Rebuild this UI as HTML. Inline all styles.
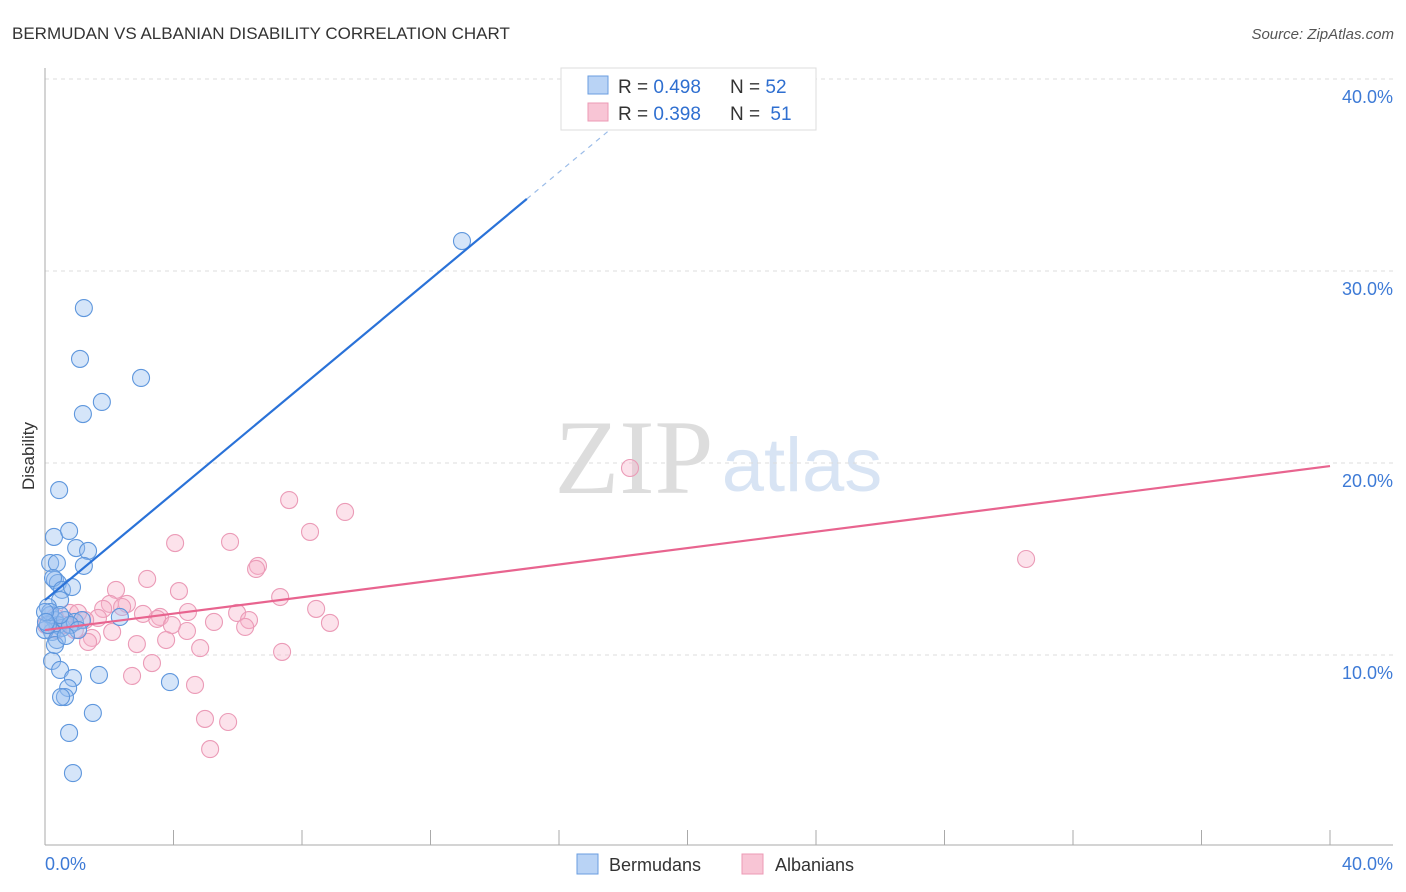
<!DOCTYPE html>
<html><head><meta charset="utf-8"><style>
body{margin:0;background:#fff;font-family:"Liberation Sans",sans-serif;}
svg{display:block}
</style></head><body>
<svg id="chart" width="1406" height="892">
<text x="12" y="39" font-size="17" fill="#333">BERMUDAN VS ALBANIAN DISABILITY CORRELATION CHART</text>
<text x="1394" y="39" font-size="15" fill="#555" font-style="italic" text-anchor="end">Source: ZipAtlas.com</text>
<text x="634" y="493" font-size="106" fill="#ddd" font-family="Liberation Serif,serif" text-anchor="middle">ZIP</text>
<text x="802" y="491" font-size="76" fill="#d8e4f4" text-anchor="middle">atlas</text>
<text transform="translate(34,456) rotate(-90)" font-size="17" fill="#333" text-anchor="middle">Disability</text>
<g id="grid"></g><g id="marks"></g>
<g>
<rect x="561" y="68" width="255" height="62" fill="#fff" stroke="#ddd"/>
<rect x="588" y="76" width="20" height="18" fill="#b9d3f5" stroke="#6a9ee0"/>
<rect x="588" y="103" width="20" height="18" fill="#f8c5d5" stroke="#ec9ab5"/>
<text x="618" y="93" font-size="19" fill="#333">R = <tspan fill="#2f6fd0">0.498</tspan></text>
<text x="730" y="93" font-size="19" fill="#333">N = <tspan fill="#2f6fd0">52</tspan></text>
<text x="618" y="120" font-size="19" fill="#333">R = <tspan fill="#2f6fd0">0.398</tspan></text>
<text x="730" y="120" font-size="19" fill="#333">N = <tspan dx="5" fill="#2f6fd0">51</tspan></text>
</g>
<g>
<rect x="577" y="854" width="21" height="20" fill="#b9d3f5" stroke="#6a9ee0"/>
<text x="609" y="871" font-size="18" fill="#333">Bermudans</text>
<rect x="742" y="854" width="21" height="20" fill="#f8c5d5" stroke="#ec9ab5"/>
<text x="775" y="871" font-size="18" fill="#333">Albanians</text>
</g>
</svg>
<script>
const yTicks=[10,20,30,40];
const yTickLabels=["10.0%","20.0%","30.0%","40.0%"];
const xTickLabels=["0.0%","40.0%"];
const bermX=[1.21,1.09,2.99,1.77,1.18,0.44,0.28,0.75,0.97,1.34,1.21,0.16,0.37,0.31,0.40,0.25,0.53,0.84,0.47,0.09,0.16,0.31,0.40,0.53,0.22,0,0.37,0.62,0.93,1.15,2.33,0.22,0.47,0.87,1.68,3.89,0.72,0.62,0.50,1.49,0.75,0.87,12.98,0.09,0.16,0.78,0.47,0,1.03,0.31,0.03,0.65];
const bermY=[28.07,25.42,24.43,23.18,22.55,18.59,16.15,16.46,15.57,15.42,14.64,14.79,14.79,13.91,13.75,14.01,13.39,13.54,12.86,12.5,12.08,11.82,11.56,11.41,11.2,11.3,10.78,11.82,11.72,11.82,11.98,9.69,9.22,8.8,8.96,8.59,8.28,7.81,7.81,6.98,5.94,3.85,31.56,11.56,12.24,11.56,12.08,12.24,11.3,10.52,11.72,10.99];
const albX=[18.21,30.54,7.60,9.34,8.25,4.05,5.76,6.63,6.57,3.18,2.21,4.17,2.02,2.55,2.40,1.81,4.45,5.98,8.44,5.26,6.35,8.87,3.58,3.49,3.05,1.65,1.25,0.78,0.31,0.62,0.93,4.42,3.95,2.09,1.46,1.34,2.86,3.77,4.83,6.23,7.38,3.33,2.71,4.67,4.98,5.70,5.14,0.37,1.03,0.03,7.32];
const albY=[19.74,15.0,18.07,17.45,16.41,15.83,15.89,14.64,14.48,13.96,13.39,13.33,12.66,12.66,12.5,12.4,12.24,12.19,12.4,11.72,11.82,11.67,11.98,11.88,12.14,11.93,11.82,12.19,11.98,11.56,11.3,11.25,11.56,11.2,10.89,10.68,10.57,10.78,10.36,11.46,10.16,9.58,8.91,8.44,6.67,6.51,5.1,11.3,12.19,11.56,13.02];
const bermTrend=[12.86,1.393];
const albTrend=[11.3,0.2135];
const NS="http://www.w3.org/2000/svg";
const X=v=>45+v/40*1285, Y=v=>847-v*19.2;
function mk(tag,at,parent){const e=document.createElementNS(NS,tag);for(const k in at)e.setAttribute(k,at[k]);parent.appendChild(e);return e;}
const grid=document.getElementById('grid'), marks=document.getElementById('marks');
yTicks.forEach((t,i)=>{
 const l=mk('line',{x1:45,x2:1393,y1:Y(t),y2:Y(t),stroke:'#ddd','stroke-dasharray':'4,4'},grid);
 
 
 const tx=mk('text',{x:1393,y:Y(t)+24,'font-size':18,fill:'#3d7ad6','text-anchor':'end'},grid);
 tx.textContent=yTickLabels[i];
 
 
});
const ax=mk('line',{x1:45,x2:45,y1:68,y2:845,stroke:'#aaa'},grid);


const bx=mk('line',{x1:45,x2:1393,y1:845,y2:845,stroke:'#aaa'},grid);


for(let i=0;i<=10;i++){const t=mk('line',{x1:X(i*4),x2:X(i*4),y1:830,y2:845,stroke:'#aaa'},grid);
 
 }
xTickLabels.forEach((s,i)=>{const t=mk('text',{x:i?1393:45,y:870,'font-size':18,fill:'#3d7ad6','text-anchor':i?'end':'start'},grid);t.textContent=s;
 
 });
function pts(xs,ys,fill,stroke,name){xs.forEach((x,i)=>{const c=mk('circle',{cx:X(x),cy:Y(ys[i]),r:8.5,fill,stroke,'stroke-width':1.1},marks);
 
 });}
pts(albX,albY,'rgba(246,180,202,0.38)','#eb9bb7','albanian-point');
pts(bermX,bermY,'rgba(150,190,240,0.4)','#5f97dd','bermudan-point');
const bEnd=15, bL=mk('line',{x1:X(0),y1:Y(bermTrend[0]),x2:X(bEnd),y2:Y(bermTrend[0]+bermTrend[1]*bEnd),stroke:'#2a72d8','stroke-width':2.2},marks);


const bD=mk('line',{x1:X(bEnd),y1:Y(bermTrend[0]+bermTrend[1]*bEnd),x2:X(18.6),y2:Y(bermTrend[0]+bermTrend[1]*18.6),stroke:'#9bbce8','stroke-width':1.2,'stroke-dasharray':'5,5'},marks);


const aL=mk('line',{x1:X(0),y1:Y(albTrend[0]),x2:X(40),y2:Y(albTrend[0]+albTrend[1]*40),stroke:'#e8648f','stroke-width':2.2},marks);


</script>
</body></html>
